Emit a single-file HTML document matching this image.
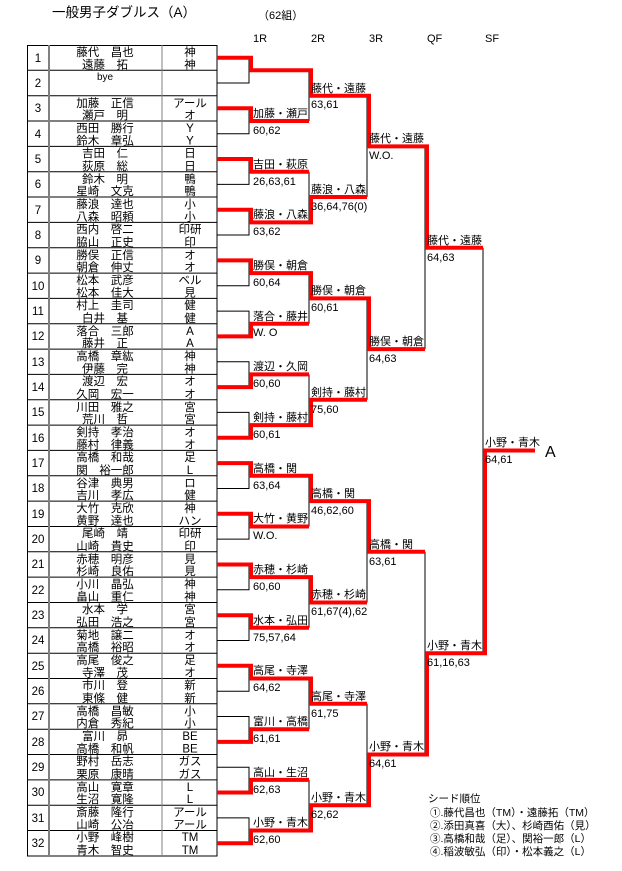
<!DOCTYPE html>
<html><head><meta charset="utf-8">
<style>
html,body{margin:0;padding:0;background:#fff;}
svg{display:block;}
text{font-family:"Liberation Sans","Noto Sans CJK JP",sans-serif;fill:#000;}
.nm{font-size:11.5px;text-anchor:middle;}
.af{font-size:11.5px;text-anchor:middle;}
.no{font-size:11.5px;text-anchor:middle;}
.lb{font-size:11px;}
.sc{font-size:11px;}
.b{stroke:#000;stroke-width:1;fill:none;}
.r{stroke:#f00;stroke-width:4;fill:none;stroke-linejoin:miter;}
</style></head><body>
<svg width="622" height="871" viewBox="0 0 622 871" xmlns="http://www.w3.org/2000/svg">
<text x="52" y="17" style="font-size:13.5px">一般男子ダブルス（A）</text>
<text x="258" y="19" style="font-size:11px">（62組）</text>
<text x="253" y="42" style="font-size:11px">1R</text>
<text x="311" y="42" style="font-size:11px">2R</text>
<text x="369" y="42" style="font-size:11px">3R</text>
<text x="427" y="42" style="font-size:11px">QF</text>
<text x="485" y="42" style="font-size:11px">SF</text>

<!-- table grid -->
<g stroke="#000" stroke-width="1">
<rect x="27.5" y="45.5" width="189.5" height="810.5" fill="none"/>
<line x1="27" y1="70.3" x2="217" y2="70.3"/><line x1="27" y1="95.7" x2="217" y2="95.7"/>
<line x1="27" y1="121" x2="217" y2="121"/><line x1="27" y1="146.4" x2="217" y2="146.4"/>
<line x1="27" y1="171.7" x2="217" y2="171.7"/><line x1="27" y1="197" x2="217" y2="197"/>
<line x1="27" y1="222.4" x2="217" y2="222.4"/><line x1="27" y1="247.7" x2="217" y2="247.7"/>
<line x1="27" y1="273.1" x2="217" y2="273.1"/><line x1="27" y1="298.4" x2="217" y2="298.4"/>
<line x1="27" y1="323.7" x2="217" y2="323.7"/><line x1="27" y1="349.1" x2="217" y2="349.1"/>
<line x1="27" y1="374.4" x2="217" y2="374.4"/><line x1="27" y1="399.8" x2="217" y2="399.8"/>
<line x1="27" y1="425.1" x2="217" y2="425.1"/><line x1="27" y1="450.4" x2="217" y2="450.4"/>
<line x1="27" y1="475.8" x2="217" y2="475.8"/><line x1="27" y1="501.1" x2="217" y2="501.1"/>
<line x1="27" y1="526.5" x2="217" y2="526.5"/><line x1="27" y1="551.8" x2="217" y2="551.8"/>
<line x1="27" y1="577.1" x2="217" y2="577.1"/><line x1="27" y1="602.5" x2="217" y2="602.5"/>
<line x1="27" y1="627.8" x2="217" y2="627.8"/><line x1="27" y1="653.2" x2="217" y2="653.2"/>
<line x1="27" y1="678.5" x2="217" y2="678.5"/><line x1="27" y1="703.8" x2="217" y2="703.8"/>
<line x1="27" y1="729.2" x2="217" y2="729.2"/><line x1="27" y1="754.5" x2="217" y2="754.5"/>
<line x1="27" y1="779.9" x2="217" y2="779.9"/><line x1="27" y1="805.2" x2="217" y2="805.2"/>
<line x1="27" y1="830.5" x2="217" y2="830.5"/>
</g>
<line x1="49" y1="45" x2="49" y2="856" stroke="#808080" stroke-width="2"/>
<line x1="162" y1="45" x2="162" y2="856" stroke="#808080" stroke-width="1"/>

<!-- numbers -->
<g class="no">
<text x="38" y="62">1</text><text x="38" y="87">2</text><text x="38" y="112">3</text><text x="38" y="138">4</text>
<text x="38" y="163">5</text><text x="38" y="188">6</text><text x="38" y="214">7</text><text x="38" y="239">8</text>
<text x="38" y="264">9</text><text x="38" y="290">10</text><text x="38" y="315">11</text><text x="38" y="340">12</text>
<text x="38" y="366">13</text><text x="38" y="391">14</text><text x="38" y="416">15</text><text x="38" y="442">16</text>
<text x="38" y="467">17</text><text x="38" y="492">18</text><text x="38" y="518">19</text><text x="38" y="543">20</text>
<text x="38" y="568">21</text><text x="38" y="594">22</text><text x="38" y="619">23</text><text x="38" y="644">24</text>
<text x="38" y="670">25</text><text x="38" y="695">26</text><text x="38" y="720">27</text><text x="38" y="746">28</text>
<text x="38" y="771">29</text><text x="38" y="796">30</text><text x="38" y="822">31</text><text x="38" y="847">32</text>
</g>

<!-- names & affiliations: row top T, lines at T+11, T+23.5 -->
<g class="nm">
<text x="105" y="56">藤代　昌也</text><text x="105" y="68.5">遠藤　拓</text>
<text x="105" y="80" style="font-size:10px">bye</text>
<text x="105" y="107">加藤　正信</text><text x="105" y="119">瀬戸　明</text>
<text x="105" y="132">西田　勝行</text><text x="105" y="144.5">鈴木　章弘</text>
<text x="105" y="157">吉田　仁</text><text x="105" y="170">荻原　総</text>
<text x="105" y="183">鈴木　明</text><text x="105" y="195">星崎　文克</text>
<text x="105" y="208">藤浪　達也</text><text x="105" y="220.5">八森　昭頼</text>
<text x="105" y="233">西内　啓二</text><text x="105" y="246">脇山　正史</text>
<text x="105" y="259">勝俣　正信</text><text x="105" y="271">朝倉　伸丈</text>
<text x="105" y="284">松本　武彦</text><text x="105" y="296.5">松本　佳大</text>
<text x="105" y="309">村上　圭司</text><text x="105" y="322">白井　基</text>
<text x="105" y="335">落合　三郎</text><text x="105" y="347">藤井　正</text>
<text x="105" y="360">高橋　章紘</text><text x="105" y="372.5">伊藤　完</text>
<text x="105" y="385">渡辺　宏</text><text x="105" y="398">久岡　宏一</text>
<text x="105" y="411">川田　雅之</text><text x="105" y="423">荒川　哲</text>
<text x="105" y="436">剣持　孝治</text><text x="105" y="448.5">藤村　律義</text>
<text x="105" y="461">高橋　和哉</text><text x="105" y="474">関　裕一郎</text>
<text x="105" y="487">谷津　典男</text><text x="105" y="499">吉川　孝広</text>
<text x="105" y="512">大竹　克欣</text><text x="105" y="524.5">黄野　達也</text>
<text x="105" y="537">尾崎　靖</text><text x="105" y="550">山崎　貴史</text>
<text x="105" y="563">赤穂　明彦</text><text x="105" y="575">杉崎　良佑</text>
<text x="105" y="588">小川　晶弘</text><text x="105" y="600.5">畠山　重仁</text>
<text x="105" y="613">水本　学</text><text x="105" y="626">弘田　浩之</text>
<text x="105" y="639">菊地　譲二</text><text x="105" y="651">高橋　裕昭</text>
<text x="105" y="664">高尾　俊之</text><text x="105" y="676.5">寺澤　茂</text>
<text x="105" y="689">市川　登</text><text x="105" y="702">東條　健</text>
<text x="105" y="715">高橋　昌敏</text><text x="105" y="727">内倉　秀紀</text>
<text x="105" y="740">富川　昴</text><text x="105" y="752.5">高橋　和帆</text>
<text x="105" y="765">野村　岳志</text><text x="105" y="778">栗原　康晴</text>
<text x="105" y="791">高山　寛章</text><text x="105" y="803">生沼　寛隆</text>
<text x="105" y="816">斎藤　隆行</text><text x="105" y="828.5">山崎　公冶</text>
<text x="105" y="841">小野　峰樹</text><text x="105" y="854">青木　智史</text>
</g>
<g class="af">
<text x="190" y="56">神</text><text x="190" y="68.5">神</text>
<text x="190" y="107">アール</text><text x="190" y="119">オ</text>
<text x="190" y="132">Y</text><text x="190" y="144.5">Y</text>
<text x="190" y="157">日</text><text x="190" y="170">日</text>
<text x="190" y="183">鴨</text><text x="190" y="195">鴨</text>
<text x="190" y="208">小</text><text x="190" y="220.5">小</text>
<text x="190" y="233">印研</text><text x="190" y="246">印</text>
<text x="190" y="259">オ</text><text x="190" y="271">オ</text>
<text x="190" y="284">ベル</text><text x="190" y="296.5">見</text>
<text x="190" y="309">健</text><text x="190" y="322">健</text>
<text x="190" y="335">A</text><text x="190" y="347">A</text>
<text x="190" y="360">神</text><text x="190" y="372.5">神</text>
<text x="190" y="385">オ</text><text x="190" y="398">オ</text>
<text x="190" y="411">宮</text><text x="190" y="423">宮</text>
<text x="190" y="436">オ</text><text x="190" y="448.5">オ</text>
<text x="190" y="461">足</text><text x="190" y="474">L</text>
<text x="190" y="487">ロ</text><text x="190" y="499">健</text>
<text x="190" y="512">神</text><text x="190" y="524.5">ハン</text>
<text x="190" y="537">印研</text><text x="190" y="550">印</text>
<text x="190" y="563">見</text><text x="190" y="575">見</text>
<text x="190" y="588">神</text><text x="190" y="600.5">神</text>
<text x="190" y="613">宮</text><text x="190" y="626">宮</text>
<text x="190" y="639">オ</text><text x="190" y="651">オ</text>
<text x="190" y="664">足</text><text x="190" y="676.5">オ</text>
<text x="190" y="689">新</text><text x="190" y="702">新</text>
<text x="190" y="715">小</text><text x="190" y="727">小</text>
<text x="190" y="740">BE</text><text x="190" y="752.5">BE</text>
<text x="190" y="765">ガス</text><text x="190" y="778">ガス</text>
<text x="190" y="791">L</text><text x="190" y="803">L</text>
<text x="190" y="816">アール</text><text x="190" y="828.5">アール</text>
<text x="190" y="841">TM</text><text x="190" y="854">TM</text>
</g>

<!-- black bracket lines -->
<g class="b">
<path d="M217 57.7H249V83H217M217 108.3H249V133.7H217M217 159H249V184.4H217M217 209.7H249V235H217
M217 260.4H249V285.7H217M217 311.1H249V336.4H217M217 361.8H249V387.1H217M217 412.4H249V437.8H217
M217 463.1H249V488.5H217M217 513.8H249V539.1H217M217 564.5H249V589.8H217M217 615.2H249V640.5H217
M217 665.8H249V691.2H217M217 716.5H249V741.9H217M217 767.2H249V792.5H217M217 817.9H249V843.2H217"/>
<path d="M309 70.3V121M309 171.7V222.4M309 273.1V323.7M309 374.4V425.1M309 475.8V526.5M309 577.1V627.8M309 678.5V729.2M309 779.9V830.5"/>
<path d="M367 95.7V197M367 298.4V399.8M367 501.1V602.5M367 703.8V805.2"/>
<path d="M425 146.4V349.1M425 551.8V754.5"/>
<path d="M483 247.8V653.2"/>
</g>

<!-- red winner paths -->
<g class="r">
<polyline points="217,57.7 251,57.7 251,70.3 309,70.3"/>
<polyline points="217,108.3 251,108.3 251,121 309,121"/>
<polyline points="217,159 251,159 251,171.7 309,171.7"/>
<polyline points="217,209.7 251,209.7 251,222.4 309,222.4"/>
<polyline points="217,260.4 251,260.4 251,273.1 309,273.1"/>
<polyline points="217,336.4 251,336.4 251,323.7 309,323.7"/>
<polyline points="217,387.1 251,387.1 251,374.4 309,374.4"/>
<polyline points="217,437.8 251,437.8 251,425.1 309,425.1"/>
<polyline points="217,463.1 251,463.1 251,475.8 309,475.8"/>
<polyline points="217,513.8 251,513.8 251,526.5 309,526.5"/>
<polyline points="217,564.5 251,564.5 251,577.1 309,577.1"/>
<polyline points="217,615.2 251,615.2 251,627.8 309,627.8"/>
<polyline points="217,665.8 251,665.8 251,678.5 309,678.5"/>
<polyline points="217,741.9 251,741.9 251,729.2 309,729.2"/>
<polyline points="217,792.5 251,792.5 251,779.9 309,779.9"/>
<polyline points="217,843.2 251,843.2 251,830.5 309,830.5"/>

<polyline points="309,70.3 311,70.3 311,95.7 367,95.7"/>
<polyline points="309,222.4 311,222.4 311,197 367,197"/>
<polyline points="309,273.1 311,273.1 311,298.4 367,298.4"/>
<polyline points="309,425.1 311,425.1 311,399.8 367,399.8"/>
<polyline points="309,475.8 311,475.8 311,501.1 367,501.1"/>
<polyline points="309,577.1 311,577.1 311,602.5 367,602.5"/>
<polyline points="309,678.5 311,678.5 311,703.8 367,703.8"/>
<polyline points="309,830.5 311,830.5 311,805.2 367,805.2"/>

<polyline points="367,95.7 369,95.7 369,146.4 425,146.4"/>
<polyline points="367,298.4 369,298.4 369,349.1 425,349.1"/>
<polyline points="367,501.1 369,501.1 369,551.8 425,551.8"/>
<polyline points="367,805.2 369,805.2 369,754.5 425,754.5"/>

<polyline points="425,146.4 427,146.4 427,247.8 483,247.8"/>
<polyline points="425,754.5 427,754.5 427,653.2 483,653.2"/>

<polyline points="483,653.2 485,653.2 485,450.5 535,450.5"/>
</g>

<!-- labels -->
<g class="lb">
<text x="253" y="117">加藤・瀬戸</text>
<text x="253" y="168">吉田・萩原</text>
<text x="253" y="218">藤浪・八森</text>
<text x="253" y="269">勝俣・朝倉</text>
<text x="253" y="320">落合・藤井</text>
<text x="253" y="370">渡辺・久岡</text>
<text x="253" y="421">剣持・藤村</text>
<text x="253" y="472">高橋・関</text>
<text x="253" y="522">大竹・黄野</text>
<text x="253" y="573">赤穂・杉崎</text>
<text x="253" y="624">水本・弘田</text>
<text x="253" y="674">高尾・寺澤</text>
<text x="253" y="725">富川・高橋</text>
<text x="253" y="776">高山・生沼</text>
<text x="253" y="826">小野・青木</text>

<text x="311" y="92">藤代・遠藤</text>
<text x="311" y="193">藤浪・八森</text>
<text x="311" y="294">勝俣・朝倉</text>
<text x="311" y="396">剣持・藤村</text>
<text x="311" y="497">高橋・関</text>
<text x="311" y="598">赤穂・杉崎</text>
<text x="311" y="700">高尾・寺澤</text>
<text x="311" y="801">小野・青木</text>

<text x="369" y="142">藤代・遠藤</text>
<text x="369" y="345">勝俣・朝倉</text>
<text x="369" y="548">高橋・関</text>
<text x="369" y="750">小野・青木</text>

<text x="427" y="244">藤代・遠藤</text>
<text x="427" y="649">小野・青木</text>

<text x="485" y="446">小野・青木</text>
</g>
<g class="sc">
<text x="253" y="134">60,62</text>
<text x="253" y="185">26,63,61</text>
<text x="253" y="235">63,62</text>
<text x="253" y="286">60,64</text>
<text x="253" y="336">W.  O</text>
<text x="253" y="387">60,60</text>
<text x="253" y="438">60,61</text>
<text x="253" y="489">63,64</text>
<text x="253" y="539">W.O.</text>
<text x="253" y="590">60,60</text>
<text x="253" y="641">75,57,64</text>
<text x="253" y="691">64,62</text>
<text x="253" y="742">61,61</text>
<text x="253" y="793">62,63</text>
<text x="253" y="843">62,60</text>

<text x="311" y="108">63,61</text>
<text x="311" y="210">36,64,76(0)</text>
<text x="311" y="311">60,61</text>
<text x="311" y="413">75,60</text>
<text x="311" y="514">46,62,60</text>
<text x="311" y="615">61,67(4),62</text>
<text x="311" y="717">61,75</text>
<text x="311" y="818">62,62</text>

<text x="369" y="159">W.O.</text>
<text x="369" y="362">64,63</text>
<text x="369" y="565">63,61</text>
<text x="369" y="767">64,61</text>

<text x="427" y="261">64,63</text>
<text x="427" y="666">61,16,63</text>

<text x="485" y="463">64,61</text>
</g>
<text x="545" y="457" style="font-size:16px">A</text>

<!-- seed legend -->
<g style="font-size:10.5px">
<text x="428" y="802">シード順位</text>
<text x="430" y="816">①.藤代昌也（TM）・遠藤拓（TM）</text>
<text x="430" y="829">②.添田真喜（大）、杉崎酉佑（見）</text>
<text x="430" y="842">③.高橋和哉（足）、関裕一郎（L）</text>
<text x="430" y="855">④.稲波敏弘（印）・松本義之（L）</text>
</g>
</svg>
</body></html>
